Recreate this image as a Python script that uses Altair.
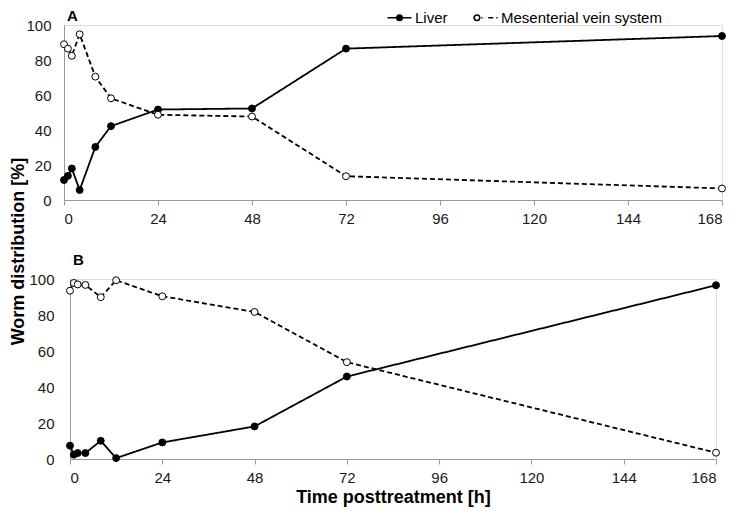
import altair as alt
import pandas as pd

# ---- data ----
time_h = [0, 1, 2, 4, 8, 12, 24, 48, 72, 168]
a_liver = [11.4, 13.8, 18.0, 5.7, 30.3, 42.2, 51.7, 52.3, 86.5, 93.7]
a_mes = [89.0, 86.5, 82.4, 94.7, 70.5, 58.1, 48.7, 47.7, 13.6, 6.6]
b_liver = [7.4, 2.4, 3.3, 3.3, 10.1, 0.5, 9.2, 18.1, 45.8, 96.5]
b_mes = [93.5, 97.8, 97.0, 96.7, 89.9, 99.3, 90.4, 81.7, 53.8, 3.5]
series_names = ["Liver", "Mesenterial vein system"]
panel_labels = ["A", "B"]
x_ticks = [0, 24, 48, 72, 96, 120, 144, 168]
y_ticks = [0, 20, 40, 60, 80, 100]

FONT = "Liberation Sans"
AXIS_GREY = "#999999"


def make_df(liver, mes):
    rows = []
    for name, vals in zip(series_names, [liver, mes]):
        for t, v in zip(time_h, vals):
            rows.append({"time": t, "value": v, "series": name, "series2": name})
    return pd.DataFrame(rows)


dash_scale = alt.Scale(domain=series_names, range=[[1, 0], [5, 3]])
fill_scale = alt.Scale(range=["black", "white"])  # data-driven domain -> separate legend

# legend symbols: short line with a gap (dash legend) and a small circle (fill legend)
line_path = "M-2.4,0L-0.55,0M0.55,0L2.4,0"
circle_path = "M-0.55,0A0.55,0.55,0,1,1,0.55,0A0.55,0.55,0,1,1,-0.55,0Z"
LEG = dict(orient="none", legendX=328, legendY=-15, direction="horizontal", title=None,
           symbolSize=100, symbolStrokeColor="black", symbolStrokeWidth=1.5,
           labelFont=FONT, labelFontSize=15, labelColor="black", labelLimit=400,
           labelOffset=8, padding=0)


def panel(df, label, w, h, legend, x_title, y_title, label_y, ylab_pad):
    xaxis = dict(
        values=x_ticks, grid=False, domainColor=AXIS_GREY, tickColor=AXIS_GREY,
        tickSize=5, labelFont=FONT, labelFontSize=15, labelColor="#1a1a1a",
        labelPadding=6,
    )
    if x_title:
        xaxis.update(title=x_title, titleFont=FONT, titleFontSize=18, titleFontWeight="bold",
                     titleColor="black", titlePadding=3)
    else:
        xaxis.update(title=None)
    x = alt.X("time:Q", scale=alt.Scale(domain=[0, 168], nice=False, zero=False),
              axis=alt.Axis(**xaxis))
    yaxis = dict(
        values=y_ticks, grid=False, domainColor=AXIS_GREY, ticks=False,
        labelFont=FONT, labelFontSize=15, labelColor="#1a1a1a", labelPadding=ylab_pad,
    )
    if y_title:
        yaxis.update(title=y_title, titleFont=FONT, titleFontSize=18, titleFontWeight="bold",
                     titleColor="black", titleY=226, titleX=-46, titleBaseline="middle",
                     titleAngle=270)
    else:
        yaxis.update(title=None)
    y = alt.Y("value:Q", scale=alt.Scale(domain=[0, 100], nice=False), axis=alt.Axis(**yaxis))

    if legend:
        dash_leg = alt.Legend(symbolType=line_path, columnPadding=22, **LEG)
        # circles only; labels empty, spacing widened by the width of "Liver"
        fill_leg = alt.Legend(symbolType=circle_path, labelExpr="''",
                              columnPadding=54.5, **LEG)
    else:
        dash_leg = None
        fill_leg = None

    line = alt.Chart(df).mark_line(color="black", strokeWidth=1.8).encode(
        x=x, y=y,
        strokeDash=alt.StrokeDash("series:N", scale=dash_scale, legend=dash_leg),
    )
    pts = alt.Chart(df).mark_point(
        shape="circle", size=48, filled=True, stroke="black", strokeWidth=1,
        opacity=1, strokeOpacity=1,
    ).encode(
        x=x, y=y,
        fill=alt.Fill("series2:N", scale=fill_scale, legend=fill_leg),
    )
    lab = alt.Chart(pd.DataFrame({"lab": [label]})).mark_text(
        font=FONT, fontSize=15, fontWeight="bold", color="black", align="left",
        baseline="alphabetic",
    ).encode(text="lab:N", x=alt.value(3), y=alt.value(label_y))
    return alt.layer(line, pts, lab).properties(width=w, height=h)


pa = panel(make_df(a_liver, a_mes), panel_labels[0], 658, 175, True, None,
           "Worm distribution [%]", -4, 13)
pb = panel(make_df(b_liver, b_mes), panel_labels[1], 646, 180, False,
           "Time posttreatment [h]", None, -14, 16)

chart = alt.vconcat(pa, pb, spacing=79, bounds="flush", center=True).resolve_legend(
    strokeDash="independent", fill="independent"
).resolve_scale(strokeDash="independent", fill="independent").properties(
    padding={"left": 0, "top": 0, "right": 0, "bottom": 0}
).configure_view(stroke=None).configure(background="white")

chart.save("out.html", embed_options={"renderer": "svg", "actions": False})
